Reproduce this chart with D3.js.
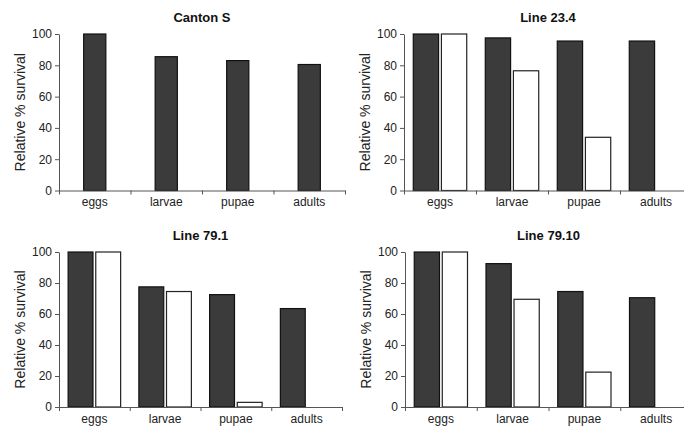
<!DOCTYPE html>
<html>
<head>
<meta charset="utf-8">
<script src="https://cdn.jsdelivr.net/npm/d3@7"></script>
<style>
  body { margin: 0; background: #fff; }
  svg { display: block; font-family: "Liberation Sans", Arial, sans-serif; }
  .axis path, .axis line { stroke: #555; }
  .axis text { fill: #222; font-size: 12px; }
</style>
</head>
<body>
<div class="chart"></div>
<script>
const categories = ['eggs', 'larvae', 'pupae', 'adults'];
const yTicks = [0, 20, 40, 60, 80, 100];

const cantonS = [100, 85.5, 83, 80.5];
const line234Dark = [100, 97.5, 95.5, 95.5];
const line234White = [100, 76.5, 34, null];
const line791Dark = [100, 77.5, 72.5, 63.5];
const line791White = [100, 74.5, 3, null];
const line7910Dark = [100, 92.5, 74.5, 70.5];
const line7910White = [100, 69.5, 22.5, null];

const panels = [
  { title: 'Canton S', series: [cantonS], left: 59, top: 34, width: 286, height: 156.5 },
  { title: 'Line 23.4', series: [line234Dark, line234White], left: 404, top: 34, width: 288, height: 156.5 },
  { title: 'Line 79.1', series: [line791Dark, line791White], left: 59, top: 252, width: 283, height: 155 },
  { title: 'Line 79.10', series: [line7910Dark, line7910White], left: 405, top: 252, width: 287, height: 155 }
];

const fills = ['#3b3b3b', '#ffffff'];
const strokes = ['#111', '#222'];

const svg = d3.select('.chart')
  .append('svg')
  .attr('width', 684)
  .attr('height', 426);

panels.forEach(p => draw(p));

function draw(p) {
  const g = svg.append('g')
    .attr('transform', `translate(${ p.left }, ${ p.top })`);

  const x = d3.scaleBand().domain(categories).range([0, p.width]);
  const y = d3.scaleLinear().domain([0, 100]).range([p.height, 0]);

  const keys = d3.range(p.series.length);
  const inner = d3.scaleBand()
    .domain(keys)
    .range([0, x.bandwidth()])
    .paddingInner(0.1)
    .paddingOuter(keys.length === 1 ? 1 : 0.33);

  const rows = [];
  p.series.forEach((vals, k) => {
    vals.forEach((v, i) => {
      if (v != null) rows.push({ cat: categories[i], k: k, v: v });
    });
  });

  g.selectAll('rect.bar')
    .data(rows)
    .join('rect')
    .attr('class', 'bar')
    .attr('x', d => x(d.cat) + inner(d.k))
    .attr('y', d => y(d.v))
    .attr('width', inner.bandwidth())
    .attr('height', d => y(0) - y(d.v))
    .attr('fill', d => fills[d.k])
    .attr('stroke', d => strokes[d.k])
    .attr('stroke-width', 1.2);

  // y axis
  g.append('g')
    .attr('class', 'axis y-axis')
    .call(d3.axisLeft(y).tickValues(yTicks).tickSize(4).tickSizeOuter(0).tickPadding(3));

  // x axis: ticks at category boundaries
  const xb = d3.scaleLinear().domain([0, categories.length]).range([0, p.width]);
  g.append('g')
    .attr('class', 'axis x-axis')
    .attr('transform', `translate(0, ${ p.height })`)
    .call(d3.axisBottom(xb).tickValues(d3.range(categories.length + 1)).tickSize(4).tickSizeOuter(0).tickFormat(''));

  g.append('g')
    .attr('class', 'axis x-labels')
    .attr('transform', `translate(0, ${ p.height })`)
    .call(d3.axisBottom(x).tickSize(0).tickPadding(7))
    .call(a => a.select('.domain').remove());

  g.append('text')
    .attr('x', p.width / 2)
    .attr('y', -12)
    .attr('text-anchor', 'middle')
    .attr('font-size', 13)
    .attr('font-weight', 'bold')
    .attr('fill', '#111')
    .text(p.title);

  g.append('text')
    .attr('transform', `translate(${ -34 }, ${ p.height / 2 }) rotate(-90)`)
    .attr('text-anchor', 'middle')
    .attr('font-size', 14)
    .attr('fill', '#222')
    .text('Relative % survival');
}
</script>
</body>
</html>
